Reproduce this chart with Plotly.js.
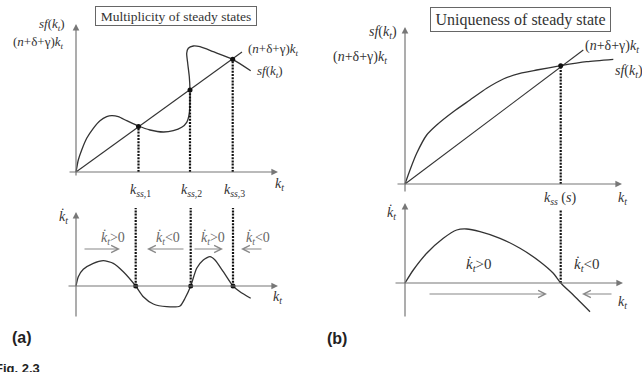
<!DOCTYPE html>
<html><head><meta charset="utf-8">
<script src="https://cdn.plot.ly/plotly-3.0.1.min.js"></script>
<style>html,body{margin:0;padding:0;background:#fff}#g{width:642px;height:372px}</style>
</head><body><div id="g"></div>
<script>
// ---- Panel (a): multiplicity of steady states ----
const kA   = [0,2.3,5.7,10.7,17.3,24,30.7,35.7,42.3,50.7,62.3,74,87.3,97.3,105.7,110.7,113.3,114,114,113.3,111.7,110.7,112.3,117.3,124,137.3,156.7,174.7];
const sfA  = [0,12,22,33.7,43.7,51.3,55.3,56.3,55.3,51.3,46,42,40,41.3,44.7,49.7,58.7,72,82,95.3,108.7,118.7,123.7,126,125.3,120.3,112.7,101.3];
const lineA_k = [0,166];
const lineA_y = [0,120];
const kssA   = [62.5,114,156.7];
const kssA_y = [45.5,82,112.7];
const kA2    = [0,2.3,7.3,17.3,27.3,37.3,47.3,59.7,67.3,77.3,90.7,104,109,114.7,120.7,127.3,134,139,147.3,157,164,174.7];
const kdotA  = [0,9.3,16.7,22.7,25.3,22.7,14.3,0,-10.7,-18,-20.7,-20,-12.3,0,17.7,26,29.3,26,14.3,0,-5.7,-12.3];
const kssA_low = [59.7,114.7,157];
const signA  = ['&gt;0','&lt;0','&gt;0','&lt;0'];
const ssLabA = ['1','2','3'];
// ---- Panel (b): uniqueness of steady state ----
const kB   = [0,5,11.7,21.7,31.7,48.3,65,81.7,98.3,115,131.7,155.7,181.7,208.3];
const sfB  = [0,14,30.7,49,59,72.3,84,95.7,105,110.7,114,118.3,122.3,124.7];
const lineB_k = [0,178.3];
const lineB_y = [0,134];
const kssB = 155.7, kssB_y = 118.3;
const kB2   = [0,8.3,21.7,38.3,51.7,61.7,75,95,115,135,148.3,155.7,168.3,185];
const kdotB = [0,13,29.7,44.7,53,54,51.3,44.7,34.7,21.3,9.7,0,-12,-28.7];

const W=642,H=372;
const serif='"Liberation Serif","DejaVu Serif",serif';
const sans='"Liberation Sans",Arial,sans-serif';
function dom(p0,p1,len){return [p0/len,p1/len];}
function ydom(t,b){return [1-b/H,1-t/H];}
const ax={visible:false,showgrid:false,zeroline:false,fixedrange:true};
const layout={width:W,height:H,margin:{l:0,r:0,t:0,b:0},paper_bgcolor:'#fff',plot_bgcolor:'rgba(0,0,0,0)',showlegend:false,
 xaxis:Object.assign({domain:dom(6,300,W),range:[-70,224],anchor:'y'},ax),
 yaxis:Object.assign({domain:ydom(10,200),range:[-28,162],anchor:'x'},ax),
 xaxis2:Object.assign({domain:dom(6,300,W),range:[-70,224],anchor:'y2'},ax),
 yaxis2:Object.assign({domain:ydom(200,325),range:[-39,86],anchor:'x2'},ax),
 xaxis3:Object.assign({domain:dom(325,640,W),range:[-80,235],anchor:'y3'},ax),
 yaxis3:Object.assign({domain:ydom(10,200),range:[-16,174],anchor:'x3'},ax),
 xaxis4:Object.assign({domain:dom(325,640,W),range:[-80,235],anchor:'y4'},ax),
 yaxis4:Object.assign({domain:ydom(200,325),range:[-42,83],anchor:'x4'},ax),
 annotations:[]};
const A=layout.annotations;
const axCol='#777', curveCol='#333', txtCol='#333';
function axisArrow(xr,yr,x0,y0,x1,y1){
  A.push({xref:xr,yref:yr,axref:xr,ayref:yr,x:x1,y:y1,ax:x0,ay:y0,text:'',showarrow:true,arrowhead:2,arrowsize:1.1,arrowwidth:1.2,arrowcolor:axCol,standoff:0,startstandoff:0});
}
function flowArrow(xr,yr,x0,x1,y){
  A.push({xref:xr,yref:yr,axref:xr,ayref:yr,x:x1,y:y,ax:x0,ay:y,text:'',showarrow:true,arrowhead:5,arrowsize:1.3,arrowwidth:1.1,arrowcolor:'#888',standoff:0});
}
function txt(xr,yr,x,y,t,size,xa,extra){
  A.push(Object.assign({xref:xr,yref:yr,x:x,y:y,text:t,showarrow:false,xanchor:xa||'center',yanchor:'middle',font:{family:serif,size:size,color:txtCol}},extra||{}));
}
const SF='<i>sf</i>(<i>k</i><sub><i>t</i></sub>)';
const NK='(<i>n</i>+δ+γ)<i>k</i><sub><i>t</i></sub>';
const KT='<i>k</i><sub><i>t</i></sub>';
const KD='<i>k̇</i><sub><i>t</i></sub>';

// axes
axisArrow('x','y',0,-5,0,148); axisArrow('x','y',-8,0,202,0);
axisArrow('x2','y2',0,-32,0,74); axisArrow('x2','y2',-9,0,202,0);
axisArrow('x3','y3',0,-9,0,157); axisArrow('x3','y3',-9,0,217,0);
axisArrow('x4','y4',0,-35,0,80); axisArrow('x4','y4',-11,0,218,0);

// panel a labels
txt('x','y',-24,147,SF,13);
txt('x','y',-38,129,NK,13);
txt('x','y',170,122,NK,13,'left');
txt('x','y',179,100,SF,13,'left');
txt('x','y',203,-12,KT,14);
kssA.forEach((k,i)=>txt('x','y',k+1.5,-18,'<i>k</i><sub><i>ss</i>,'+ssLabA[i]+'</sub>',14));
txt('x2','y2',-13,69,KD,14);
txt('x2','y2',201,-11,KT,14);
signA.forEach((s,i)=>txt('x2','y2',[37,92,137,182][i],48,KD+s,14,'center',{font:{family:serif,size:14,color:'#666'}}));
flowArrow('x2','y2',7,44,37); flowArrow('x2','y2',109,71,37);
flowArrow('x2','y2',117,147,37); flowArrow('x2','y2',187,165,37);
A.push({xref:'paper',yref:'paper',x:176/W,y:1-16.5/H,xanchor:'center',yanchor:'middle',text:'Multiplicity of steady states',showarrow:false,width:160,height:18,borderpad:0,bordercolor:'#666',borderwidth:1,font:{family:serif,size:13.5,color:txtCol}});

// panel b labels
txt('x3','y3',-22,151,SF,14);
txt('x3','y3',-45,126,NK,14);
txt('x3','y3',178,137,NK,14,'left');
txt('x3','y3',208,112,SF,14,'left');
txt('x3','y3',155,-14,'<i>k</i><sub><i>ss</i></sub> (<i>s</i>)',14);
txt('x3','y3',217,-14,KT,14);
txt('x4','y4',-14,70,KD,14);
txt('x4','y4',74,18,KD+'&gt;0',15);
txt('x4','y4',182,18,KD+'&lt;0',15);
txt('x4','y4',217,-19,KT,14);
flowArrow('x4','y4',23,142,-11); flowArrow('x4','y4',208,177,-11);
A.push({xref:'paper',yref:'paper',x:520.5/W,y:1-19.5/H,xanchor:'center',yanchor:'middle',text:'Uniqueness of steady state',showarrow:false,width:179,height:23,borderpad:0,bordercolor:'#666',borderwidth:1,font:{family:serif,size:16,color:txtCol}});

// panel tags
txt('paper','paper',22/W,1-337/H,'<b>(a)</b>',16,'center',{font:{family:sans,size:16,color:'#222'}});
txt('paper','paper',337/W,1-338/H,'<b>(b)</b>',16,'center',{font:{family:sans,size:16,color:'#222'}});
txt('paper','paper',-7/W,1-368/H,'<b>Fig. 2.3</b>',13,'left',{font:{family:sans,size:13,color:'#222'}});

// dashed segments built from steady-state arrays
function vseg(ks,y0s,y1s){const x=[],y=[];ks.forEach((k,i)=>{x.push(k,k,null);y.push(y0s[i],y1s[i],null);});return {x,y};}
const dA=vseg(kssA,kssA.map(()=>0),kssA_y);
const dA2=vseg(kssA_low,kssA_low.map(()=>0),kssA_low.map(()=>78));
const dB=vseg([kssB],[0],[kssB_y]);
const dB2=vseg([kssB],[0],[73]);
const dash={color:'#111',width:2.2,dash:'2px,1.2px'};
const cl={color:curveCol,width:1.3,shape:'spline',smoothing:0.6};
const traces=[
 {x:lineA_k,y:lineA_y,xaxis:'x',yaxis:'y',mode:'lines',line:{color:curveCol,width:1.1}},
 {x:kA,y:sfA,xaxis:'x',yaxis:'y',mode:'lines',line:cl},
 {x:dA.x,y:dA.y,xaxis:'x',yaxis:'y',mode:'lines',line:dash},
 {x:kssA,y:kssA_y,xaxis:'x',yaxis:'y',mode:'markers',marker:{color:'#111',size:5}},
 {x:dA2.x,y:dA2.y,xaxis:'x2',yaxis:'y2',mode:'lines',line:dash},
 {x:kA2,y:kdotA,xaxis:'x2',yaxis:'y2',mode:'lines',line:cl},
 {x:kssA_low,y:kssA_low.map(()=>0),xaxis:'x2',yaxis:'y2',mode:'markers',marker:{color:'#111',size:5}},
 {x:lineB_k,y:lineB_y,xaxis:'x3',yaxis:'y3',mode:'lines',line:{color:curveCol,width:1.1}},
 {x:kB,y:sfB,xaxis:'x3',yaxis:'y3',mode:'lines',line:cl},
 {x:dB.x,y:dB.y,xaxis:'x3',yaxis:'y3',mode:'lines',line:dash},
 {x:[kssB],y:[kssB_y],xaxis:'x3',yaxis:'y3',mode:'markers',marker:{color:'#111',size:5}},
 {x:dB2.x,y:dB2.y,xaxis:'x4',yaxis:'y4',mode:'lines',line:dash},
 {x:kB2,y:kdotB,xaxis:'x4',yaxis:'y4',mode:'lines',line:cl}
];
Plotly.newPlot('g',traces,layout,{staticPlot:true,displayModeBar:false});
</script></body></html>
